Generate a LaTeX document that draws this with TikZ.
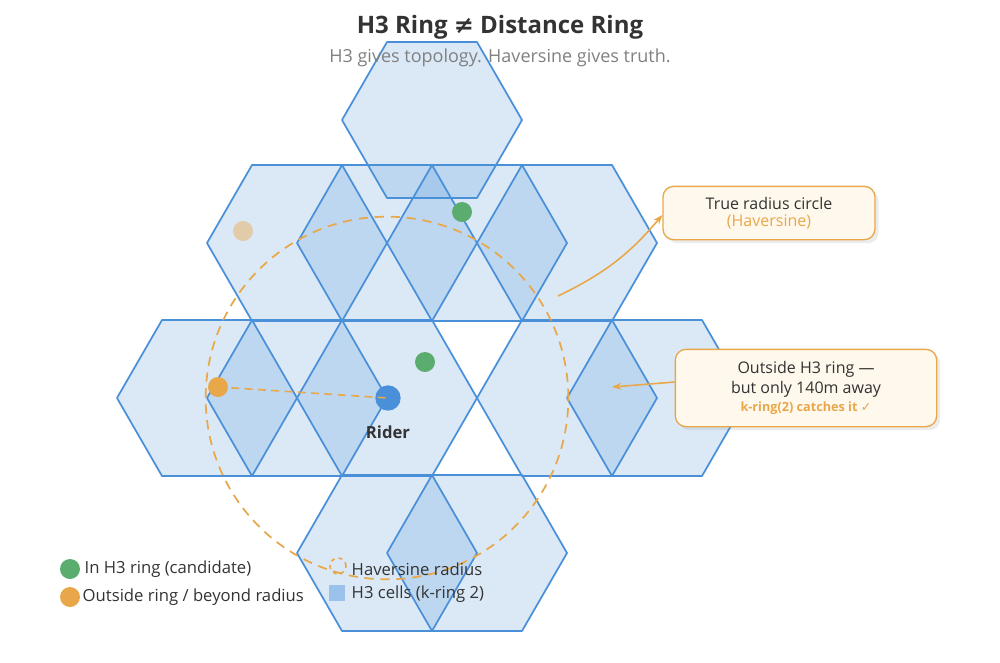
\documentclass[tikz,border=0pt]{standalone}
\usepackage{fontspec}
\usetikzlibrary{shadows,arrows.meta}
\setmainfont{Open Sans}
\newfontfamily\symf{DejaVu Sans}
\definecolor{hexb}{HTML}{4A90D9}
\definecolor{org}{HTML}{E8A84A}
\definecolor{grn}{HTML}{5BAD6F}
\definecolor{txt}{HTML}{333333}
\definecolor{boxf}{HTML}{FFF8EC}
\begin{document}
\begin{tikzpicture}[x=0.75pt,y=-0.75pt,
  hex/.style={draw=hexb,line width=1.3pt,fill=hexb,fill opacity=0.2,line join=round},
  dot/.style={circle,inner sep=0pt,minimum size=#1},
  callout/.style={draw=org,fill=boxf,rounded corners=8pt,line width=1pt,align=center,text=txt,font=\fontsize{12}{15}\selectfont,drop shadow={opacity=0.15}},
  lbl/.style={font=\fontsize{12.5}{15}\selectfont,text=txt,anchor=west}]
\useasboundingbox (0,0) rectangle (1000,662);
\newcommand{\hexat}[2]{\draw[hex] (#1-90,#2) -- (#1-45,#2-78) -- (#1+45,#2-78) -- (#1+90,#2) -- (#1+45,#2+78) -- (#1-45,#2+78) -- cycle;}
\hexat{432}{120}
\hexat{297}{243}\hexat{387}{243}\hexat{477}{243}\hexat{567}{243}
\hexat{207}{398}\hexat{297}{398}\hexat{387}{398}\hexat{567}{398}\hexat{657}{398}
\hexat{387}{553}\hexat{477}{553}
% circle
\node[draw=org,dashed,line width=1.3pt,dash pattern=on 7pt off 5pt,circle,minimum size=272pt,inner sep=0pt] (circ) at (387,398) {};
% dots
\node[dot=15pt,fill=grn] (g1) at (462,212) {};
\node[dot=15pt,fill=grn] (g2) at (425,362) {};
\node[dot=15pt,fill=org,opacity=0.45] (p1) at (243,231) {};
\node[dot=15pt,fill=org] (o1) at (218,387) {};
\node[dot=19pt,fill=hexb] (rider) at (388,398) {};
\draw[org,dashed,line width=1.2pt,dash pattern=on 6pt off 4pt] (o1.center) -- (rider.center);
\node[font=\bfseries\fontsize{12.5}{15}\selectfont,text=txt] (rl) at (388,432) {Rider};
% title
\node[font=\bfseries\fontsize{18}{22}\selectfont,text=txt] (title) at (500,27) {H3 Ring {\symf ≠} Distance Ring};
\node[font=\fontsize{13.5}{16}\selectfont,text=gray] (sub) at (500,58) {H3 gives topology. Haversine gives truth.};
% callouts
\node[callout,minimum width=159pt,minimum height=40pt] (c1) at (769,213) {True radius circle\\[-2pt]{\color{org}(Haversine)}};
\node[callout,minimum width=196pt,minimum height=58pt] (c2) at (806,388) {Outside H3 ring —\\but only 140m away\\[-1pt]{\color{org}\bfseries\fontsize{9.5}{12}\selectfont k-ring(2) catches it {\symf ✓}}};
\coordinate (a1) at (558,296);
\coordinate (a2) at (612,387);
\draw[org,line width=1.2pt,-{Stealth[length=7pt]}] (a1) to[bend right=12] (c1.west|-0,215);
\draw[org,line width=1.2pt,-{Stealth[length=7pt]}] (c2.west|-0,382) -- (a2);
% legend
\node[dot=15pt,fill=grn] (lg) at (70,569) {};
\node[lbl] (lgt) at (80,569) {In H3 ring (candidate)};
\node[dot=15pt,fill=org] (lo) at (70,597) {};
\node[lbl] (lot) at (78,597) {Outside ring / beyond radius};
\node[draw=org,dashed,line width=1.2pt,circle,minimum size=12pt,inner sep=0pt] (lc) at (338,566) {};
\node[lbl] (lct) at (347,569) {Haversine radius};
\node[fill=hexb!55,minimum size=12pt,inner sep=0pt] (ls) at (337,593) {};
\node[lbl] (lst) at (347,594) {H3 cells (k-ring 2)};
\end{tikzpicture}
\end{document}
